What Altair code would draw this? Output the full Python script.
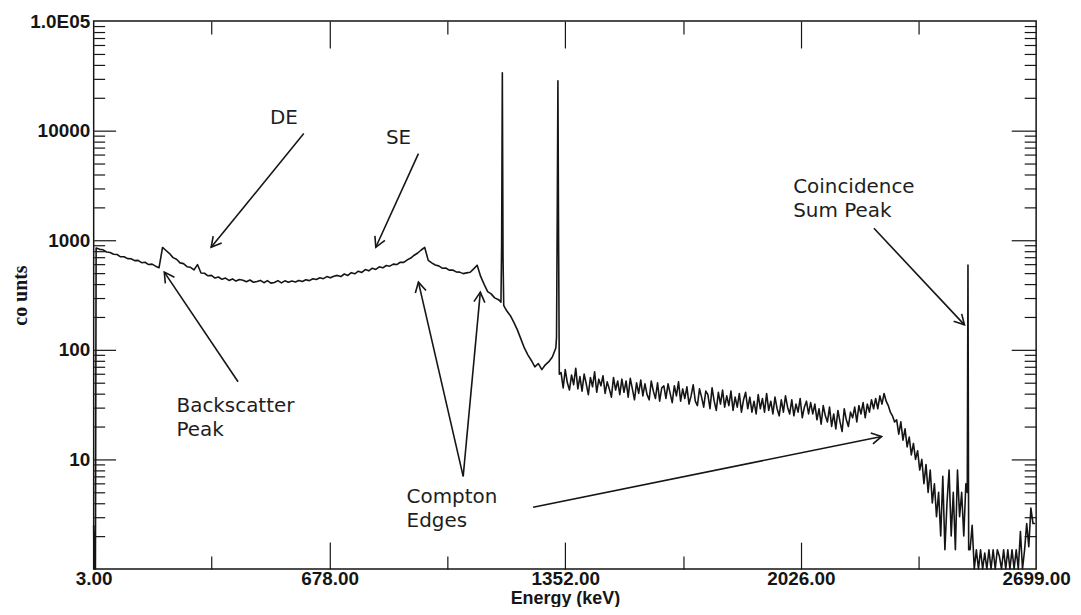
import math
import altair as alt
import pandas as pd

# ---------------- geometry / scales ----------------
W, H = 946, 550
X_DOMAIN = [3, 2699]
Y_DOMAIN = [1, 100000]
INK = "#151515"

# ---------------- axis ticks / labels ----------------
x_tick_values = [3, 678, 1352, 2026, 2699]
x_major_ticks = [678, 1352, 2026]
x_minor_ticks = [340, 1015, 1689, 2362]
y_tick_values = [10, 100, 1000, 10000, 100000]
y_tick_labels = ["10", "100", "1000", "10000", "1.0E05"]
y_major_ticks = [10, 100, 1000, 10000]
y_minor_ticks = [m * 10 ** k for k in range(5) for m in range(2, 10)]

# ---------------- spectrum ----------------
lead_e = [3, 4, 6, 8]
lead_c = [2.5, 1, 2.2, 1]

low_start, low_step = 10, 10          # 10 .. 1160 keV
low_c = [850, 826, 818, 782, 774, 744, 741, 706, 708, 680,
         678, 652, 655, 624, 630, 600, 606, 580, 562, 860,
         806, 756, 694, 670, 622, 612, 574, 566, 536, 600,
         502, 500, 474, 478, 452, 462, 440, 452, 430, 444,
         424, 438, 432, 418, 434, 414, 420, 430, 410, 428,
         406, 412, 428, 408, 426, 414, 424, 416, 430, 420,
         436, 428, 446, 438, 454, 446, 466, 454, 470, 478,
         466, 492, 478, 506, 494, 522, 508, 540, 526, 556,
         542, 572, 560, 588, 580, 606, 600, 630, 628, 662,
         688, 730, 765, 815, 860, 655, 622, 594, 584, 556,
         558, 534, 536, 514, 512, 496, 504, 510, 548, 592,
         468, 396, 340, 324, 298, 288]

peak1_e = [1164, 1168, 1170, 1172, 1174, 1176, 1180]
peak1_c = [282, 272, 900, 33700, 700, 255, 240]

mid_start, mid_step = 1185, 10        # 1185 .. 1325 keV
mid_c = [226, 205, 178, 152, 126, 104, 90, 80, 70, 75, 66, 73, 78, 86, 104]

peak2_e = [1327, 1329, 1331, 1333, 1335]
peak2_c = [130, 1500, 28500, 900, 60]

high_start, high_step = 1340, 6       # 1340 .. 2498 keV
high_c = [62, 45, 66, 50, 43, 59, 48, 68, 44, 57,
          42, 60, 49, 39, 56, 46, 63, 41, 54, 47,
          58, 40, 51, 44, 37, 56, 43, 52, 39, 54,
          41, 52, 37, 55, 44, 35, 50, 40, 53, 38,
          49, 39, 35, 52, 42, 36, 50, 34, 45, 47,
          36, 49, 40, 33, 47, 38, 51, 34, 44, 36,
          46, 32, 38, 48, 34, 31, 44, 37, 30, 42,
          39, 29, 45, 34, 28, 41, 32, 43, 30, 38,
          31, 42, 28, 37, 30, 40, 27, 35, 41, 29,
          37, 27, 34, 26, 39, 29, 36, 27, 40, 28,
          34, 26, 37, 29, 25, 35, 27, 38, 30, 26,
          35, 25, 32, 27, 36, 24, 30, 34, 26, 33,
          26, 32, 23, 29, 21, 31, 25, 22, 30, 20,
          26, 19, 28, 22, 18, 29, 23, 20, 27, 24,
          30, 22, 31, 26, 33, 24, 32, 27, 35, 29,
          36, 29, 38, 32, 40, 34, 31, 27, 25, 22,
          23, 17, 22, 15, 19, 13, 16, 11, 14, 10,
          12, 8, 10, 6, 9, 5, 8, 4, 6, 3,
          5, 2, 7, 1.5, 4, 8, 2, 5, 1.5, 8, 3, 5, 2, 6]

sum_e = [2502, 2504, 2506]
sum_c = [5, 595, 1.5]

tail_start, tail_step = 2510, 6       # 2510 .. 2696 keV
tail_c = [1.5, 2.5, 1, 1.5, 1, 1.5, 1, 1.4, 1, 1.5,
          1, 1.5, 1, 1.5, 1.3, 1, 1.5, 1, 1.5, 1,
          1.5, 1, 1.5, 1, 2.2, 1, 1.5, 2.6, 1.6, 3.6,
          2.6, 2.6]

energies, counts = [], []
energies += lead_e; counts += lead_c
energies += [low_start + low_step * i for i in range(len(low_c))]; counts += low_c
energies += peak1_e; counts += peak1_c
energies += [mid_start + mid_step * i for i in range(len(mid_c))]; counts += mid_c
energies += peak2_e; counts += peak2_c
energies += [high_start + high_step * i for i in range(len(high_c))]; counts += high_c
energies += sum_e; counts += sum_c
energies += [tail_start + tail_step * i for i in range(len(tail_c))]; counts += tail_c
spec_df = pd.DataFrame({"E": energies, "counts": counts})

# ---------------- annotations ----------------
label_text = ["DE", "SE", "Backscatter\nPeak", "Compton\nEdges", "Coincidence\nSum Peak"]
label_e = [547, 875, 240, 898, 2004]
label_c = [11600, 7620, 27.3, 3.98, 2673]
label_align = ["center", "center", "left", "left", "left"]

arrow_e1 = [604, 932, 416, 1060, 1060, 1260, 2235]
arrow_c1 = [9400, 6180, 51.2, 7.0, 7.0, 3.66, 1285]
arrow_e2 = [339, 810, 205, 932, 1109, 2257, 2494]
arrow_c2 = [863, 863, 512, 415, 336, 16.2, 169]


def px(e):
    return (e - X_DOMAIN[0]) / (X_DOMAIN[1] - X_DOMAIN[0]) * W


def py(c):
    lo, hi = math.log10(Y_DOMAIN[0]), math.log10(Y_DOMAIN[1])
    return H * (hi - math.log10(c)) / (hi - lo)


arrow_angle = [math.degrees(math.atan2(py(c2) - py(c1), px(e2) - px(e1))) % 360
               for e1, c1, e2, c2 in zip(arrow_e1, arrow_c1, arrow_e2, arrow_c2)]

arrow_df = pd.DataFrame({"E1": arrow_e1, "c1": arrow_c1, "E2": arrow_e2,
                         "c2": arrow_c2, "angle": arrow_angle})
label_df = pd.DataFrame({"E": label_e, "c": label_c, "text": label_text, "align": label_align})

x_scale = alt.Scale(domain=X_DOMAIN, nice=False, zero=False)
y_scale = alt.Scale(type="log", domain=Y_DOMAIN, nice=False, clamp=True)

label_expr = " : ".join(
    f"round(datum.value) == {v} ? '{t}'" for v, t in zip(y_tick_values, y_tick_labels)
) + " : ''"

main = alt.Chart(spec_df).mark_line(
    color=INK, strokeWidth=1.6, strokeJoin="round"
).encode(
    x=alt.X("E:Q", scale=x_scale, axis=alt.Axis(
        orient="bottom", values=x_tick_values, format=".2f", title="Energy (keV)",
        tickSize=0, domain=False, grid=False, labelFlush=False, labelOverlap=False,
        labelFont="Liberation Sans", labelFontSize=19, labelFontWeight="bold",
        labelColor=INK, labelPadding=1,
        titleFont="Liberation Sans", titleFontSize=18, titleFontWeight="bold",
        titleColor=INK, titleBaseline="alphabetic", titleY=35)),
    y=alt.Y("counts:Q", scale=y_scale, axis=alt.Axis(
        orient="left", values=y_tick_values, labelExpr=label_expr,
        tickSize=0, domain=False, grid=False, labelOverlap=False,
        labelFont="Liberation Sans", labelFontSize=19, labelFontWeight="bold",
        labelColor=INK, labelPadding=4,
        title="co unts", titleAngle=270, titleX=-73, titleY=275,
        titleAlign="center", titleBaseline="middle",
        titleFont="Liberation Serif", titleFontSize=20, titleFontWeight="bold",
        titleColor=INK)),
)


def tick_axis(orient, values, length):
    return alt.Axis(orient=orient, values=values, tickSize=length, offset=-length,
                    labels=False, domain=False, grid=False, title=None,
                    tickColor=INK, tickWidth=1.2)


def tick_layer(xo, xv, xl, yo, yv, yl):
    return alt.Chart(spec_df).mark_point(opacity=0).encode(
        x=alt.X("E:Q", scale=x_scale, axis=tick_axis(xo, xv, xl)),
        y=alt.Y("counts:Q", scale=y_scale, axis=tick_axis(yo, yv, yl)),
    )


ticks = [
    tick_layer("bottom", x_major_ticks, 27, "left", y_major_ticks, 22),
    tick_layer("bottom", x_minor_ticks, 13, "left", y_minor_ticks, 11),
    tick_layer("top", x_major_ticks, 27, "right", y_major_ticks, 25),
    tick_layer("top", x_minor_ticks, 13, "right", y_minor_ticks, 12),
]

arrows = alt.Chart(arrow_df).mark_rule(color=INK, strokeWidth=1.6).encode(
    x=alt.X("E1:Q", scale=x_scale, axis=None),
    y=alt.Y("c1:Q", scale=y_scale, axis=None),
    x2="E2:Q", y2="c2:Q",
)

heads = alt.Chart(arrow_df).mark_point(
    shape="M -1 -0.55 L 0 0 L -1 0.55", filled=False, size=400,
    color=INK, strokeWidth=1.6, opacity=1,
).encode(
    x=alt.X("E2:Q", scale=x_scale, axis=None),
    y=alt.Y("c2:Q", scale=y_scale, axis=None),
    angle=alt.Angle("angle:Q", scale=None),
)


def text_layer(align):
    return alt.Chart(label_df).transform_filter(
        alt.datum.align == align
    ).mark_text(
        align=align, baseline="alphabetic", font="DejaVu Sans", fontSize=20,
        color="#1e1e1e", lineBreak="\n", lineHeight=24,
    ).encode(
        x=alt.X("E:Q", scale=x_scale, axis=None),
        y=alt.Y("c:Q", scale=y_scale, axis=None),
        text="text:N",
    )


chart = alt.layer(
    main, *ticks, arrows, heads, text_layer("center"), text_layer("left")
).resolve_axis(
    x="independent", y="independent"
).properties(
    width=W, height=H,
    autosize=alt.AutoSizeParams(type="none"),
    padding={"left": 86, "top": 12, "right": 37, "bottom": 37},
    background="white",
).configure_view(stroke=INK, strokeWidth=1.5)

chart.save("out.html", embed_options={"renderer": "svg", "actions": False})
